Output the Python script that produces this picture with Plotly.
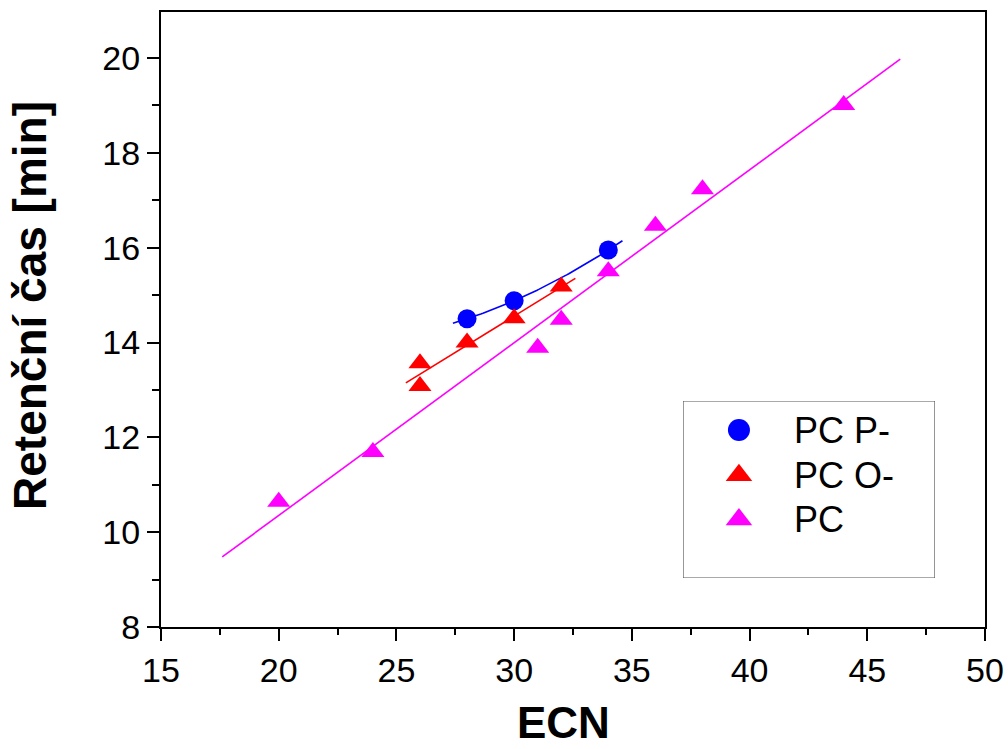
import numpy as np
import plotly.graph_objects as go

# ECN vs retention time for three phosphatidylcholine classes
pcp_ecn = [28, 30, 34]
pcp_rt = [14.50, 14.88, 15.95]

pco_ecn = [26, 26, 28, 30, 32]
pco_rt = [13.56, 13.08, 14.00, 14.51, 15.18]

pc_ecn = [20, 24, 31, 32, 34, 36, 38, 44]
pc_rt = [10.64, 11.69, 13.89, 14.48, 15.50, 16.46, 17.23, 19.01]

series_names = ["PC P-", "PC O-", "PC"]
series_colors = ["#0000FF", "#FF0000", "#FF00FF"]
series_symbols = ["circle", "triangle-up", "triangle-up"]
fit_degrees = [2, 1, 1]

x_ticks = [15, 20, 25, 30, 35, 40, 45, 50]
y_ticks = [8, 10, 12, 14, 16, 18, 20]

FONT = "Arial, 'Liberation Sans', sans-serif"

datasets = [(pcp_ecn, pcp_rt), (pco_ecn, pco_rt), (pc_ecn, pc_rt)]

fig = go.Figure()

# fitted curves, extended 10 % of the data span beyond each end
for (xs, ys), color, deg in zip(datasets, series_colors, fit_degrees):
    xs_a = np.asarray(xs, float)
    ys_a = np.asarray(ys, float)
    coef = np.polyfit(xs_a, ys_a, deg)
    span = xs_a.max() - xs_a.min()
    xf = np.linspace(xs_a.min() - 0.1 * span, xs_a.max() + 0.1 * span, 80)
    fig.add_trace(go.Scatter(
        x=xf, y=np.polyval(coef, xf), mode="lines",
        line=dict(color=color, width=1.6), showlegend=False, hoverinfo="skip"))

# measured points
for (xs, ys), name, color, sym in zip(datasets, series_names, series_colors, series_symbols):
    size = 19 if sym == "circle" else 20
    fig.add_trace(go.Scatter(
        x=xs, y=ys, mode="markers", name=name,
        marker=dict(symbol=sym, color=color, size=size, line=dict(width=0)),
        showlegend=False))

# legend box drawn on its own hidden axes
legend_rows = [0.836, 0.58, 0.33]
for name, color, sym, yrow in zip(series_names, series_colors, series_symbols, legend_rows):
    size = 22 if sym == "circle" else 23
    fig.add_trace(go.Scatter(
        x=[0.222], y=[yrow], xaxis="x2", yaxis="y2", mode="markers",
        marker=dict(symbol=sym, color=color, size=size, line=dict(width=0)),
        showlegend=False, hoverinfo="skip"))
    fig.add_annotation(
        x=0.433, y=yrow, xref="x2", yref="y2", text=name, showarrow=False,
        xanchor="left", yanchor="middle", font=dict(family=FONT, size=36, color="black"))

fig.add_shape(type="rect", xref="x2", yref="y2", x0=0, x1=1, y0=0, y1=1,
              line=dict(color="#555555", width=1.2), fillcolor="rgba(0,0,0,0)")

axis_common = dict(
    showgrid=False, zeroline=False, showline=True, linecolor="black", linewidth=2,
    mirror=True, ticks="outside", tickwidth=2, ticklen=12, tickcolor="black",
    tickfont=dict(family=FONT, size=34, color="black"), automargin=False,
)

fig.update_layout(
    width=1008, height=749,
    margin=dict(l=161, r=23, t=12, b=122),
    paper_bgcolor="white", plot_bgcolor="white",
    showlegend=False,
    xaxis=dict(range=[15, 50], tickvals=x_ticks,
               minor=dict(dtick=2.5, ticks="outside", ticklen=6, tickwidth=2, tickcolor="black"),
               **axis_common),
    yaxis=dict(range=[8, 20.97], tickvals=y_ticks,
               minor=dict(dtick=1, ticks="outside", ticklen=7, tickwidth=2, tickcolor="black"),
               **axis_common),
    xaxis2=dict(domain=[0.6335, 0.9393], range=[0, 1], visible=False, anchor="y2"),
    yaxis2=dict(domain=[0.0797, 0.3675], range=[0, 1], visible=False, anchor="x2"),
)

# axis titles
fig.add_annotation(
    x=0.489, y=-0.1984, xref="paper", yref="paper", text="<b>ECN</b>", showarrow=False,
    xanchor="center", yanchor="bottom", font=dict(family=FONT, size=44, color="black"))
fig.add_annotation(
    x=-0.159, y=0.5236, xref="paper", yref="paper", text="<b>Retenční čas [min]</b>",
    showarrow=False, textangle=-90, xanchor="center", yanchor="middle",
    font=dict(family=FONT, size=46, color="black"))

fig.write_html("out.html")
